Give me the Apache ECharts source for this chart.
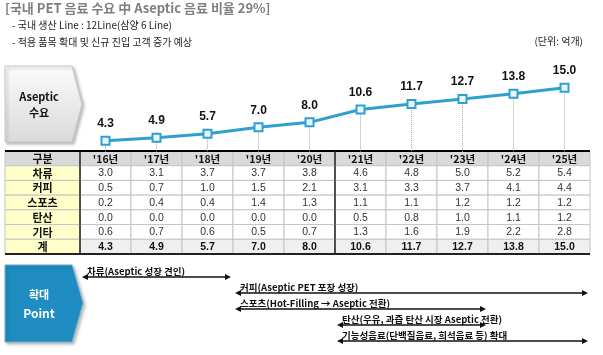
<!DOCTYPE html>
<html><head><meta charset="utf-8">
<script src="https://cdn.jsdelivr.net/npm/echarts@6/dist/echarts.min.js"></script>
<style>html,body{margin:0;padding:0;background:#fff}#c{width:603px;height:355px}</style>
</head><body><div id="c"></div>
<script>
// ---- data ----
const years = ["'16년","'17년","'18년","'19년","'20년","'21년","'22년","'23년","'24년","'25년"];
const totals = [4.3, 4.9, 5.7, 7.0, 8.0, 10.6, 11.7, 12.7, 13.8, 15.0];
const headerName = '구분';
const totalName = '계';
const rowNames = ['차류', '커피', '스포츠', '탄산', '기타'];
const tea    = [3.0, 3.1, 3.7, 3.7, 3.8, 4.6, 4.8, 5.0, 5.2, 5.4];
const coffee = [0.5, 0.7, 1.0, 1.5, 2.1, 3.1, 3.3, 3.7, 4.1, 4.4];
const sports = [0.2, 0.4, 0.4, 1.4, 1.3, 1.1, 1.1, 1.2, 1.2, 1.2];
const soda   = [0.0, 0.0, 0.0, 0.0, 0.0, 0.5, 0.8, 1.0, 1.1, 1.2];
const other  = [0.6, 0.7, 0.6, 0.5, 0.7, 1.3, 1.6, 1.9, 2.2, 2.8];
const arrowLabels = ['차류(Aseptic 성장 견인)', '커피(Aseptic PET 포장 성장)', '스포츠(Hot-Filling → Aseptic 전환)', '탄산(우유, 과즙 탄산 시장 Aseptic 전환)', '기능성음료(단백질음료, 희석음료 등) 확대'];
const arrowStart = [0, 3, 3, 5, 5];
const arrowEnd   = [3, 10, 8, 8, 10];
const titleText = '[국내 PET 음료 수요 中 Aseptic 음료 비율 29%]';
const noteLines = ['- 국내 생산 Line : 12Line(삼양 6 Line)', '- 적용 품목 확대 및 신규 진입 고객 증가 예상'];
const unitText = '(단위: 억개)';
const leftBoxText = ['Aseptic', '수요'];
const pointBoxText = ['확대', 'Point'];

// ---- build tables ----
const rowCats = [headerName].concat(rowNames, [totalName]);
const rowValues = [tea, coffee, sports, soda, other];
const tableCells = []; const tableTexts = [];
for (let c = 0; c < years.length; c++) {
  tableCells.push([c, 0]); tableTexts.push(years[c]);
  for (let r = 0; r < rowValues.length; r++) { tableCells.push([c, r + 1]); tableTexts.push(rowValues[r][c].toFixed(1)); }
  tableCells.push([c, rowCats.length - 1]); tableTexts.push(totals[c].toFixed(1));
}
const nameCells = rowCats.map((n, r) => [0, r]);
const arrowData = arrowLabels.map((l, i) => [arrowStart[i], arrowEnd[i], i]);

const CJK = '"Noto Sans CJK KR", sans-serif';
const LAT = '"Liberation Sans", Arial, sans-serif';
const blue = '#2f9fd0';
const lastRow = rowCats.length - 1;

function cellBox(api, c, r) {
  const pt = api.coord([c, r]); const sz = api.size([1, 1]);
  return { x: pt[0] - sz[0] / 2, y: pt[1] - sz[1] / 2, w: sz[0], h: sz[1], cx: pt[0], cy: pt[1] };
}
function thickLines(b, r, extraLeft) {
  const out = [];
  if (r === 0) out.push({ type: 'line', z2: 20, shape: { x1: b.x, y1: b.y, x2: b.x + b.w, y2: b.y }, style: { stroke: '#000', lineWidth: 2 } });
  if (r === lastRow) out.push({ type: 'line', z2: 20, shape: { x1: b.x, y1: b.y + b.h, x2: b.x + b.w, y2: b.y + b.h }, style: { stroke: '#222', lineWidth: 2 } });
  if (extraLeft) out.push({ type: 'line', z2: 20, shape: { x1: b.x, y1: b.y, x2: b.x, y2: b.y + b.h }, style: { stroke: '#222', lineWidth: 1.5 } });
  return out;
}
function renderTableCell(params, api) {
  const c = api.value(0), r = api.value(1);
  const b = cellBox(api, c, r);
  const fill = r === 0 ? '#d9d9d9' : (r === lastRow ? '#efefef' : '#ffffff');
  const bold = r === 0 || r === lastRow;
  const children = [
    { type: 'rect', shape: { x: b.x, y: b.y, width: b.w, height: b.h }, style: { fill: fill, stroke: '#c4c4c4', lineWidth: 1 } },
    { type: 'text', z2: 5, style: { text: tableTexts[params.dataIndex], x: b.cx, y: b.cy + 0.5, align: 'center', verticalAlign: 'middle', fill: bold ? '#111' : '#333', font: (bold ? 'bold ' : '') + '10.5px ' + (r === 0 ? CJK : LAT) } }
  ].concat(thickLines(b, r, c === 0 || c === 5));
  return { type: 'group', children: children };
}
function renderNameCell(params, api) {
  const r = api.value(1);
  const b = cellBox(api, 0, r);
  const fill = r === 0 ? '#d9d9d9' : '#ffffc9';
  const children = [
    { type: 'rect', shape: { x: b.x, y: b.y, width: b.w, height: b.h }, style: { fill: fill, stroke: '#c4c4c4', lineWidth: 1 } },
    { type: 'text', z2: 5, style: { text: rowCats[r], x: b.cx, y: b.cy + 0.5, align: 'center', verticalAlign: 'middle', fill: '#111', font: 'bold 11px ' + CJK } }
  ].concat(thickLines(b, r, false));
  return { type: 'group', children: children };
}
function renderArrow(params, api) {
  const i = params.dataIndex;
  const p1 = api.coord([api.value(0), api.value(2)]);
  const p2 = api.coord([api.value(1), api.value(2)]);
  const y = p1[1], x1 = p1[0] + 2, x2 = p2[0] - 2, L = 6, H = 3;
  return { type: 'group', children: [
    { type: 'line', shape: { x1: x1 + L - 1, y1: y, x2: x2 - L + 1, y2: y }, style: { stroke: '#111', lineWidth: 1.4 } },
    { type: 'polygon', shape: { points: [[x1, y], [x1 + L, y - H], [x1 + L, y + H]] }, style: { fill: '#111' } },
    { type: 'polygon', shape: { points: [[x2, y], [x2 - L, y - H], [x2 - L, y + H]] }, style: { fill: '#111' } },
    { type: 'text', style: { text: arrowLabels[i], x: x1 + 5, y: y - 1, align: 'left', verticalAlign: 'bottom', fill: '#111', font: 'bold 9.5px ' + CJK } }
  ] };
}

const chart = echarts.init(document.getElementById('c'), null, { renderer: 'canvas' });
chart.setOption({
  animation: false,
  backgroundColor: '#fff',
  grid: [
    { left: 80, right: 13, top: 63, bottom: 203 },
    { left: 80, right: 13, top: 151, height: 103 },
    { left: 5, width: 75, top: 151, height: 103 },
    { left: 80, right: 13, top: 269, height: 80 }
  ],
  xAxis: [
    { gridIndex: 0, type: 'category', data: years, boundaryGap: true, show: false },
    { gridIndex: 1, type: 'category', data: years, show: false },
    { gridIndex: 2, type: 'category', data: [headerName], show: false },
    { gridIndex: 3, type: 'value', min: 0, max: years.length, show: false }
  ],
  yAxis: [
    { gridIndex: 0, type: 'value', min: 2, max: 20, show: false },
    { gridIndex: 1, type: 'category', data: rowCats, inverse: true, show: false },
    { gridIndex: 2, type: 'category', data: rowCats, inverse: true, show: false },
    { gridIndex: 3, type: 'category', data: arrowLabels, inverse: true, show: false }
  ],
  series: [
    {
      type: 'line', xAxisIndex: 0, yAxisIndex: 0, data: totals, z: 5,
      lineStyle: { color: blue, width: 3 },
      symbol: 'rect', symbolSize: 8,
      itemStyle: { color: '#eaf6fb', borderColor: blue, borderWidth: 2 },
      label: { show: true, position: 'top', distance: 6, color: '#111', fontWeight: 'bold', fontSize: 12, fontFamily: LAT, formatter: p => p.value.toFixed(1) },
      markLine: {
        silent: true, symbol: 'none', label: { show: false },
        lineStyle: { color: '#a8a8a8', type: 'dotted', width: 1 },
        data: totals.map((v, i) => [{ coord: [years[i], v] }, { coord: [years[i], 2] }])
      }
    },
    { type: 'custom', xAxisIndex: 1, yAxisIndex: 1, data: tableCells, renderItem: renderTableCell, encode: { x: 0, y: 1 } },
    { type: 'custom', xAxisIndex: 2, yAxisIndex: 2, data: nameCells, renderItem: renderNameCell, encode: { x: 0, y: 1 } },
    { type: 'custom', xAxisIndex: 3, yAxisIndex: 3, data: arrowData, renderItem: renderArrow, encode: { x: [0, 1], y: 2 } }
  ],
  graphic: [
    { type: 'text', left: 5, top: 2, style: { text: titleText, fill: '#7f7f7f', font: 'bold 13px ' + CJK } },
    { type: 'text', left: 12, top: 20, style: { text: noteLines[0], fill: '#222', font: '10px ' + CJK } },
    { type: 'text', left: 12, top: 37, style: { text: noteLines[1], fill: '#222', font: '10px ' + CJK } },
    { type: 'text', right: 20, top: 36, style: { text: unitText, fill: '#222', font: '10px ' + CJK } },
    { type: 'polygon', shape: { points: [[5, 66], [72, 66], [82, 104], [72, 142], [5, 142]] },
      style: { fill: new echarts.graphic.LinearGradient(0, 0, 0, 1, [{ offset: 0, color: '#fbfbfb' }, { offset: 1, color: '#dadada' }]), stroke: '#c8c8c8', lineWidth: 1, shadowBlur: 3, shadowOffsetX: 2, shadowOffsetY: 2, shadowColor: 'rgba(0,0,0,0.25)' } },
    { type: 'text', x: 39, y: 97, style: { text: leftBoxText[0], align: 'center', verticalAlign: 'middle', fill: '#111', font: 'bold 11px ' + CJK } },
    { type: 'text', x: 39, y: 113, style: { text: leftBoxText[1], align: 'center', verticalAlign: 'middle', fill: '#111', font: 'bold 11px ' + CJK } },
    { type: 'polygon', shape: { points: [[5, 265], [72, 265], [83, 303], [72, 342], [5, 342]] },
      style: { fill: '#1f8dc1', stroke: '#6aaed0', lineWidth: 1, shadowBlur: 3, shadowOffsetX: 2, shadowOffsetY: 2, shadowColor: 'rgba(0,0,0,0.25)' } },
    { type: 'text', x: 39, y: 295, style: { text: pointBoxText[0], align: 'center', verticalAlign: 'middle', fill: '#fff', font: 'bold 11px ' + CJK } },
    { type: 'text', x: 39, y: 313, style: { text: pointBoxText[1], align: 'center', verticalAlign: 'middle', fill: '#fff', font: 'bold 12px ' + CJK } }
  ]
});
</script></body></html>
